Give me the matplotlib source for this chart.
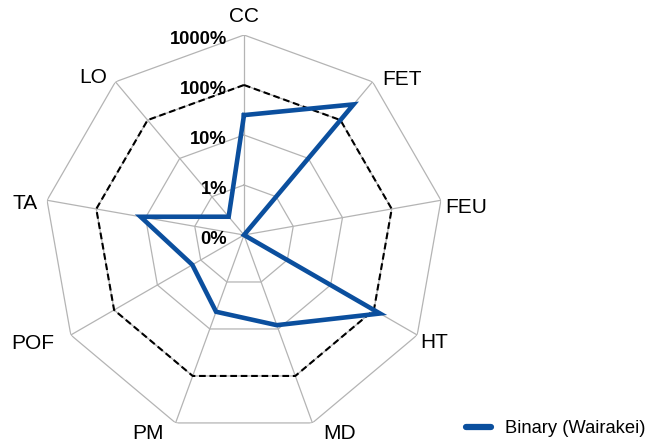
import numpy as np
import matplotlib
matplotlib.use("Agg")
import matplotlib.pyplot as plt
from matplotlib.lines import Line2D

categories = ["CC", "FET", "FEU", "HT", "MD", "PM", "POF", "TA", "LO"]
binary_wairakei = [25, 257, 0.1, 138, 8.3, 4.3, 1.56, 12.6, 0.3]   # percent
baseline = [100] * len(categories)
ring_values = [1, 10, 100, 1000]
tick_values = [0.1, 1, 10, 100, 1000]
tick_labels = ["0%", "1%", "10%", "100%", "1000%"]

plt.rcParams["font.family"] = ["Liberation Sans", "DejaVu Sans"]

fig = plt.figure(figsize=(6.53, 4.46), dpi=100)
ax = fig.add_axes([44 / 653, 11 / 446, 400 / 653, 400 / 446], projection="polar")
ax.set_theta_zero_location("N")
ax.set_theta_direction(-1)
ax.set_rscale("log")
ax.set_rlim(0.1, 1000)
ax.grid(False)
ax.spines["polar"].set_visible(False)
ax.set_xticks([])
ax.set_yticks([])

n = len(categories)
theta = np.arange(n) * 2 * np.pi / n
theta_closed = np.append(theta, theta[0])

grid_color = "#b4b4b4"
for th in theta:
    ax.plot([th, th], [0.1, 1000], color=grid_color, lw=0.9, zorder=1)
for r in ring_values:
    ax.plot(theta_closed, [r] * (n + 1), color=grid_color, lw=0.9, zorder=1)

ax.plot(theta_closed, baseline + baseline[:1], color="black", lw=1.5,
        ls=(0, (3.2, 1.8)), zorder=2)
blue = "#0b4f9e"
ax.plot(theta_closed, binary_wairakei + binary_wairakei[:1],
        color=blue, lw=3.3, solid_joinstyle="miter", zorder=3)

# category labels around the outer ring
label_style = [
    ((0, 9), "center", "bottom"),
    ((10, 2), "left", "center"),
    ((4, -7), "left", "center"),
    ((3, -8), "left", "center"),
    ((11, -1), "left", "top"),
    ((-12, -1), "right", "top"),
    ((-17, -8), "right", "center"),
    ((-9, -3), "right", "center"),
    ((-8, 4), "right", "center"),
]
for th, cat, (off, ha, va) in zip(theta, categories, label_style):
    ax.annotate(cat, xy=(th, 1000), xytext=off, textcoords="offset pixels",
                ha=ha, va=va, fontsize=15, annotation_clip=False)

for v, lab in zip(tick_values, tick_labels):
    ax.annotate(lab, xy=(0, v), xytext=(-17, -4), textcoords="offset pixels",
                ha="right", va="center", fontsize=13.2, fontweight="bold",
                annotation_clip=False)

handle = Line2D([], [], color=blue, lw=4.5, solid_capstyle="round")
fig.legend(handles=[handle], labels=["Binary (Wairakei)"], loc="lower right",
           bbox_to_anchor=(1.005, -0.005), frameon=False, fontsize=13.2,
           handlelength=1.35, handletextpad=0.75, borderaxespad=0.2)

fig.savefig("out.png", dpi=100)
